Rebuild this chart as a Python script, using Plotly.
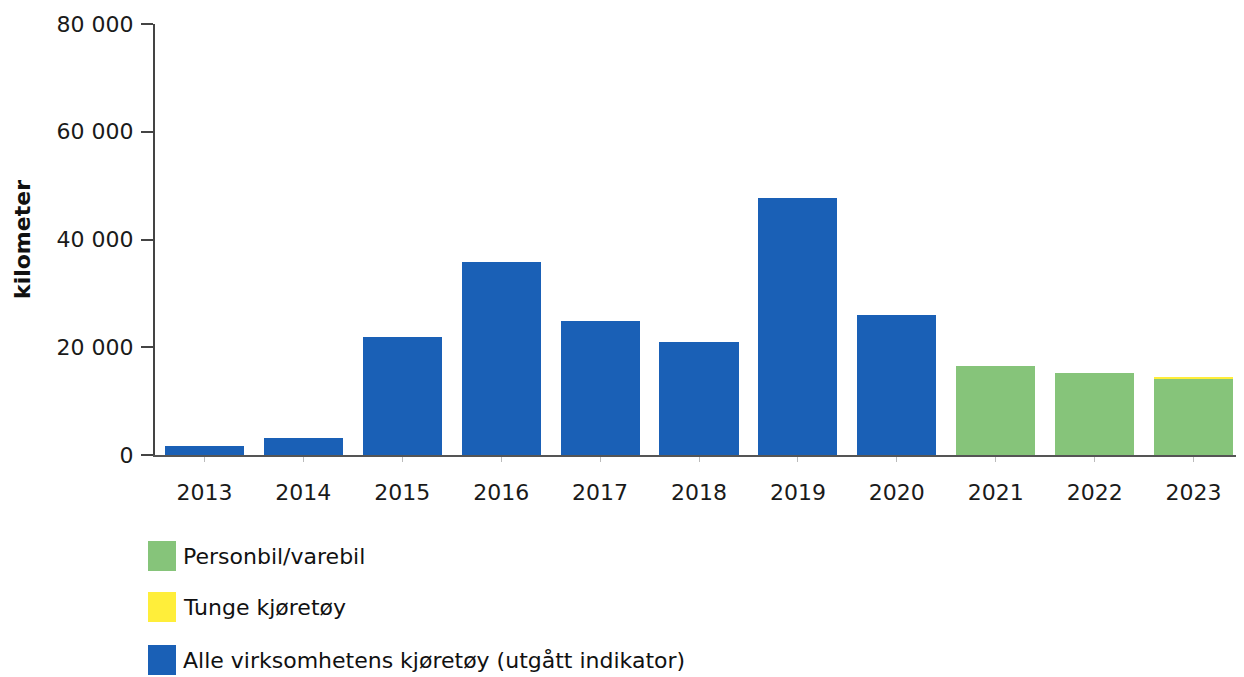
import plotly.graph_objects as go

years = ["2013", "2014", "2015", "2016", "2017", "2018", "2019", "2020", "2021", "2022", "2023"]
alle = [1600, 3100, 21900, 35800, 24900, 20900, 47700, 25900, None, None, None]
personbil = [None, None, None, None, None, None, None, None, 16600, 15300, 14200]
tunge = [None, None, None, None, None, None, None, None, None, None, 300]

legend_names = ["Personbil/varebil", "Tunge kjøretøy", "Alle virksomhetens kjøretøy (utgått indikator)"]
y_ticks = [0, 20000, 40000, 60000, 80000]
y_tick_labels = ["0", "20 000", "40 000", "60 000", "80 000"]

c_green = "#86c47a"
c_yellow = "#ffee3a"
c_blue = "#1a60b6"
colors = [c_green, c_yellow, c_blue]

font_family = "DejaVu Sans, Verdana, sans-serif"

# page has an 8px body margin; figure is sized to fit the window
OFF = 8
W, H = 1244 - OFF, 677 - OFF
ML, MR, MT, MB = 155 - OFF, 1, 24 - OFF, 222
PW, PH = W - ML - MR, H - MT - MB

fig = go.Figure()
fig.add_trace(go.Bar(x=years, y=alle, name=legend_names[2], marker_color=c_blue, marker_line_width=0))
fig.add_trace(go.Bar(x=years, y=personbil, name=legend_names[0], marker_color=c_green, marker_line_width=0))
fig.add_trace(go.Bar(x=years, y=tunge, name=legend_names[1], marker_color=c_yellow, marker_line_width=0))

fig.update_layout(
    width=W, height=H,
    barmode="stack", bargap=0.2,
    showlegend=False,
    paper_bgcolor="white", plot_bgcolor="white",
    margin=dict(l=ML, r=MR, t=MT, b=MB),
    font=dict(family=font_family, color="#1a1a1a", size=22),
)
fig.update_xaxes(
    type="category", showline=True, linecolor="#555555", linewidth=2,
    ticks="outside", ticklen=5, tickcolor="#bbbbbb",
    tickfont=dict(size=22, family=font_family, color="#1a1a1a"),
    ticklabelstandoff=12, showgrid=False, range=[-0.5, 10.5],
)
fig.update_yaxes(
    range=[0, 80000], tickvals=y_ticks, ticktext=y_tick_labels,
    showline=True, linecolor="#444444", linewidth=2,
    ticks="outside", ticklen=12, tickcolor="#444444", tickwidth=2,
    tickfont=dict(size=22, family=font_family, color="#1a1a1a"),
    ticklabelstandoff=3, showgrid=False, zeroline=False,
    title=dict(text="<b>kilometer</b>", font=dict(size=22, family=font_family, color="#111111"), standoff=20),
    automargin=False,
)

def px_x(px):
    return (px - OFF - ML) / PW

def px_y(py):
    return ((H - MB) - (py - OFF)) / PH

# Legend (manual, large swatches), positions in window pixels
sw_x0, sw_x1 = 148, 176
rows_y = [556, 607, 660]
for name, col, yc in zip(legend_names, colors, rows_y):
    fig.add_shape(type="rect", xref="paper", yref="paper",
                  x0=px_x(sw_x0), x1=px_x(sw_x1),
                  y0=px_y(yc + 15), y1=px_y(yc - 15),
                  fillcolor=col, line_width=0)
    fig.add_annotation(xref="paper", yref="paper",
                       x=px_x(181), y=px_y(yc),
                       text=name, showarrow=False, xanchor="left", yanchor="middle",
                       font=dict(size=22, family=font_family, color="#111111"))

fig.write_html("out.html")
